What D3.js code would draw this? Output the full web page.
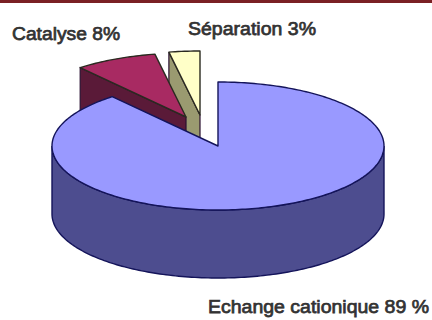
<!DOCTYPE html>
<html>
<head>
<meta charset="utf-8">
<script src="https://cdn.jsdelivr.net/npm/d3@7/dist/d3.min.js"></script>
<style>
html,body{margin:0;padding:0;background:#fff}
svg{display:block}
text{font-family:"Liberation Sans",Arial,sans-serif;fill:#333;stroke:#333;stroke-width:.75px}
</style>
</head>
<body>
<svg id="chart" width="432" height="320"></svg>
<script>
// Shares of the three reaction types
const categories = ["Echange cationique", "Catalyse", "Séparation"];
const shares = [89, 8, 3];
const topColors = ["#9999ff", "#a82a62", "#ffffc8"];
const sideColors = ["#4d4d8f", "#5a1a38", "#9a9a70"];

const W = 432, H = 320;
const cx = 218, cy = 146, rx = 166, ry = 64, depth = 68;
const outline = "#14145a";
const explode = [[0, 0], [-32, -29], [-18, -31]];
const labelPos = [[208, 313, 221], [12, 40, 108], [188, 35, 128]];

const svg = d3.select("#chart");
svg.append("rect").attr("width", W).attr("height", 3).attr("fill", "#7a2024");

const slices = d3.pie().sort(null).value(d => d)(shares);

// Point on the tilted rim for a clockwise-from-top angle
const rim = (a, dx = 0, dy = 0) => [cx + dx + rx * Math.sin(a), cy + dy - ry * Math.cos(a)];
const rimRange = (a0, a1, dx, dy) => {
  const n = Math.max(2, Math.ceil(Math.abs(a1 - a0) / 0.02));
  return d3.range(n + 1).map(i => rim(a0 + (a1 - a0) * i / n, dx, dy));
};
const line = d3.line();

// The detached wedges sit behind the main one, so they are drawn first
[2, 1, 0].forEach(i => {
  const s = slices[i];
  const [dx, dy] = explode[i];
  const g = svg.append("g");
  const apex = [cx + dx, cy + dy];

  if (i === 0) {
    // Curved front wall across the lower half of the disc
    const a0 = Math.PI / 2, a1 = 3 * Math.PI / 2;
    const upper = rimRange(a0, a1, dx, dy);
    const lower = rimRange(a1, a0, dx, dy + depth);
    g.append("path").attr("d", line(upper.concat(lower)) + "Z")
      .attr("fill", sideColors[i]).attr("stroke", outline).attr("stroke-width", 1.4);
  } else {
    // Cut face along the wedge's left edge, facing the viewer
    const p = rim(s.startAngle, dx, dy);
    g.append("path")
      .attr("d", line([apex, p, [p[0], p[1] + depth], [apex[0], apex[1] + depth]]) + "Z")
      .attr("fill", sideColors[i]).attr("stroke", "#2a1030").attr("stroke-width", 1.2);
  }

  const top = [apex].concat(rimRange(s.startAngle, s.endAngle, dx, dy));
  g.append("path").attr("d", line(top) + "Z")
    .attr("fill", topColors[i])
    .attr("stroke", i === 0 ? outline : "#2a2a20")
    .attr("stroke-width", 1.4)
    .attr("stroke-linejoin", "round");
});

// Labels
categories.forEach((c, i) => {
  const [x, y, w] = labelPos[i];
  svg.append("text")
    .attr("x", x).attr("y", y)
    .attr("font-size", 19)
    .attr("textLength", w)
    .attr("lengthAdjust", "spacingAndGlyphs")
    .text(`${c} ${shares[i]}${i === 0 ? " " : ""}%`);
});
</script>
</body>
</html>
